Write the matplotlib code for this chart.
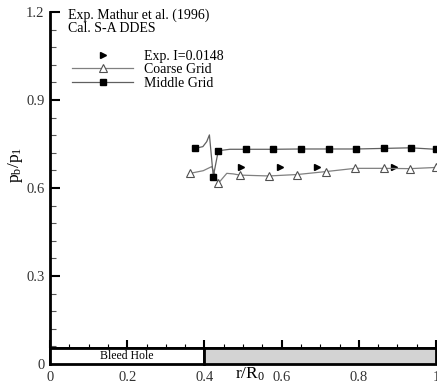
import numpy as np
import matplotlib.pyplot as plt
from matplotlib.patches import Rectangle
from matplotlib.ticker import MultipleLocator

plt.rcParams['font.family'] = ['Liberation Serif', 'DejaVu Serif']
plt.rcParams['mathtext.fontset'] = 'custom'
plt.rcParams['mathtext.rm'] = 'Liberation Serif'
plt.rcParams['mathtext.it'] = 'Liberation Serif'

# Middle grid (filled squares), line has unmarked points in between
mid_x = [0.375, 0.396, 0.406, 0.413, 0.423, 0.436, 0.466, 0.507, 0.578, 0.650,
         0.722, 0.794, 0.865, 0.934, 0.999]
mid_y = [0.735, 0.741, 0.758, 0.781, 0.639, 0.727, 0.732, 0.732, 0.732, 0.733,
         0.733, 0.733, 0.735, 0.737, 0.732]
mid_mark = [0, 4, 5, 7, 8, 9, 10, 11, 12, 13, 14]

# Coarse grid (open triangles)
crs_x = [0.363, 0.397, 0.419, 0.436, 0.458, 0.475, 0.492, 0.567, 0.641, 0.715,
         0.790, 0.864, 0.933, 0.999]
crs_y = [0.650, 0.659, 0.673, 0.616, 0.650, 0.648, 0.644, 0.641, 0.646, 0.656,
         0.667, 0.667, 0.666, 0.670]
crs_mark = [0, 3, 6, 7, 8, 9, 10, 11, 12, 13]

# Experiment
exp_x = [0.496, 0.596, 0.692, 0.892]
exp_y = [0.670, 0.672, 0.670, 0.670]

bar_top = 0.055
hole_end = 0.4

fig = plt.figure(figsize=(4.37, 3.84), dpi=100)
ax = fig.add_axes([50/437, 20/384, 386/437, 352/384])

ax.plot(exp_x, exp_y, linestyle='none', marker='>', color='black', ms=5,
        label='Exp. I=0.0148', clip_on=False)
ax.plot(crs_x, crs_y, color='#808080', lw=0.9, marker='^', ms=6, mfc='white',
        mec='#505050', mew=0.8, markevery=crs_mark, label='Coarse Grid', clip_on=False)
ax.plot(mid_x, mid_y, color='#606060', lw=0.9, marker='s', ms=5, mfc='black',
        mec='black', markevery=mid_mark, label='Middle Grid', clip_on=False)

# bleed hole bar at bottom
ax.add_patch(Rectangle((0, 0), hole_end, bar_top, facecolor='white',
                       edgecolor='black', lw=2, clip_on=False, zorder=3))
ax.add_patch(Rectangle((hole_end, 0), 1 - hole_end, bar_top, facecolor='#d3d3d3',
                       edgecolor='black', lw=2, clip_on=False, zorder=3))
ax.text(0.2, bar_top / 2, 'Bleed Hole', ha='center', va='center', fontsize=8.5, zorder=4)

ax.set_xlim(0, 1)
ax.set_ylim(0, 1.2)
ax.spines['top'].set_visible(False)
ax.spines['right'].set_visible(False)
ax.spines['left'].set_linewidth(2)
ax.spines['bottom'].set_linewidth(2)
ax.spines['bottom'].set_position(('data', bar_top))

ax.xaxis.set_minor_locator(MultipleLocator(0.05))
ax.yaxis.set_minor_locator(MultipleLocator(0.06))
ax.set_xticks([0, 0.2, 0.4, 0.6, 0.8, 1.0])
ax.set_xticklabels(['0', '0.2', '0.4', '0.6', '0.8', '1'])
ax.set_yticks([0, 0.3, 0.6, 0.9, 1.2])
ax.set_yticklabels(['0', '0.3', '0.6', '0.9', '1.2'])

ax.tick_params(axis='x', which='major', direction='in', length=6, width=1.5,
               pad=17, labelsize=10.5, labelcolor='#333333')
ax.tick_params(axis='x', which='minor', direction='in', length=3, width=0.8)
ax.tick_params(axis='y', which='major', direction='in', length=7, width=1.5,
               pad=4, labelsize=10.5, labelcolor='#333333')
ax.tick_params(axis='y', which='minor', direction='in', length=4, width=0.8,
               color='#555555')

ax.set_ylabel('p$_b$/p$_1$', fontsize=12.5)
ax.yaxis.set_label_coords(-0.065, 0.565)
ax.text(0.518, -0.028, 'r/R$_0$', transform=ax.transAxes, ha='center', va='center',
        fontsize=12.5)

ax.text(0.047, 0.990, 'Exp. Mathur et al. (1996)', transform=ax.transAxes,
        va='center', fontsize=10)
ax.text(0.047, 0.952, 'Cal. S-A DDES', transform=ax.transAxes,
        va='center', fontsize=10)

ax.legend(loc='upper left', bbox_to_anchor=(0.057, 0.893), frameon=False,
          fontsize=10, handlelength=4.4, handletextpad=0.8, labelspacing=0.05,
          borderpad=0, borderaxespad=0)

fig.savefig('out.png', dpi=100)
